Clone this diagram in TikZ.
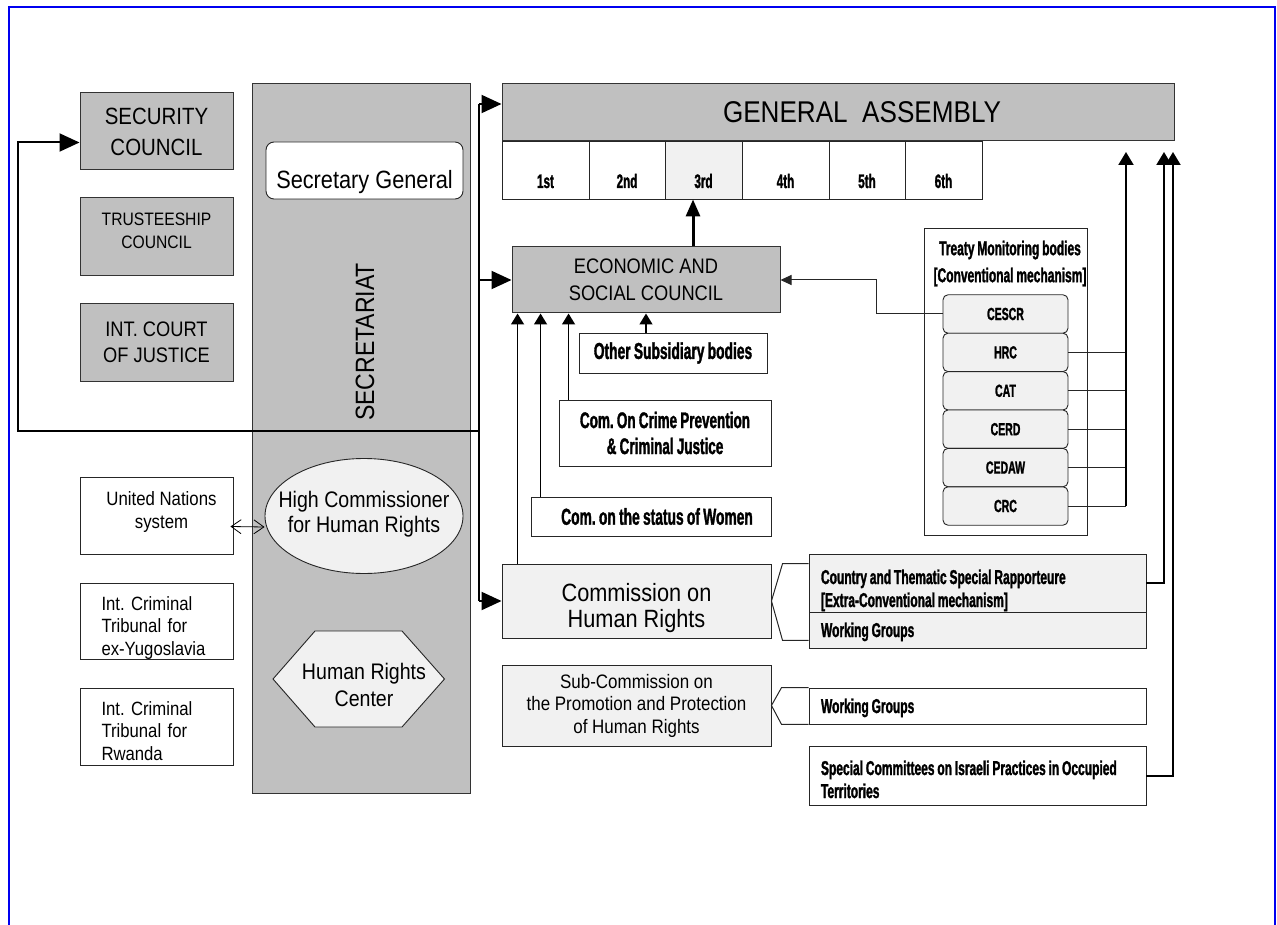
\documentclass[tikz,border=0pt]{standalone}
\usepackage{fontspec}
\setmainfont{Liberation Sans}[FakeStretch=0.87]
\newfontfamily\impactfont{Liberation Sans}[FakeStretch=0.6,FakeBold=1.4,WordSpace=0.85]
\usetikzlibrary{arrows.meta,shapes.geometric}
\frenchspacing

\definecolor{boxgray}{HTML}{C0C0C0}
\definecolor{lightfill}{HTML}{F1F1F1}
\definecolor{frameblue}{HTML}{0000F0}

% text block moved by #2, its last baseline on the node centre
\newcommand{\lowered}[3][c]{\raisebox{#2}[0pt][0pt]{\begin{tabular}[b]{@{}#1@{}}#3\end{tabular}}}
\newcommand{\leftblock}[2][-7pt]{\makebox[313pt][l]{\lowered[l]{#1}{#2}}}

\tikzset{
  organ/.style={draw=black!80, line width=1pt, fill=boxgray, inner sep=0pt, align=center},
  plainbox/.style={draw=black!85, line width=0.9pt, fill=white, inner sep=0pt, align=center},
  lightbox/.style={draw=black!85, line width=0.9pt, fill=lightfill, inner sep=0pt, align=center},
  impact/.style={font=\impactfont\bfseries\fontsize{#1}{#1}\selectfont},
  treatybox/.style={lightbox, rounded corners=5pt, minimum width=125pt, minimum height=38.4pt, impact=17.5},
  mechbox/.style={minimum width=337pt, font=\impactfont\bfseries\fontsize{20}{23}\selectfont},
  thinline/.style={draw=black!85, line width=1pt},
  thinarrow/.style={thinline, -{Triangle[length=11pt,width=10pt]}},
  trunk/.style={line width=2pt},
  bigarrow/.style={line width=2pt, -{Triangle[length=20pt,width=18pt]}},
  heavyarrow/.style={line width=3pt, -{Triangle[length=17pt,width=14pt]}},
  uparrow/.style={line width=2pt, -{Triangle[length=13pt,width=15pt]}},
  smallarrow/.style={line width=1.5pt, -{Triangle[length=11pt,width=13pt]}},
  dblarrow/.style={line width=0.8pt, {Straight Barb[length=10pt,width=14pt]}-{Straight Barb[length=10pt,width=14pt]}}
}

\begin{document}
\begin{tikzpicture}[x=1pt,y=-1pt]
\useasboundingbox (0,0) rectangle (1277,925);
\draw[line width=2pt, frameblue] (9,925) -- (9,7) -- (1275,7) -- (1275,925);

\node[organ, minimum width=153pt, minimum height=77pt, font=\fontsize{23.5}{31}\selectfont] (sc) at (156.5,131.5) {SECURITY\\COUNCIL};
\node[organ, minimum width=153pt, minimum height=78pt, font=\fontsize{18}{23}\selectfont] (tc) at (156.5,237) {\lowered{-11.5pt}{TRUSTEESHIP\\COUNCIL}};
\node[organ, minimum width=153pt, minimum height=77pt, font=\fontsize{21}{26}\selectfont] (icj) at (156.5,342.5) {INT. COURT\\OF JUSTICE};

\node[organ, minimum width=218pt, minimum height=709pt] (secr) at (361,438.5) {};
\node[rotate=90, font=\fontsize{26.5}{30}\selectfont] (secrlabel) at (365,342) {SECRETARIAT};
\node[plainbox, rounded corners=8pt, minimum width=197pt, minimum height=57pt, font=\fontsize{25}{28}\selectfont] (sg) at (364.5,170.5) {\raisebox{-18pt}[0pt][0pt]{Secretary General}};
\node[lightbox, ellipse, minimum width=198pt, minimum height=115pt] (hc) at (364,516) {};
\node[align=center, font=\fontsize{22.5}{25}\selectfont] (hctext) at (364,514.5) {High Commissioner\\for Human Rights};
\coordinate (hrcc) at (358.5,679);
\draw[draw=black!85, line width=0.9pt, fill=lightfill] (hrcc) ++(-85.5,0) -- ++(42,-48) -- ++(87,0) -- ++(42.5,48) -- ++(-42.5,48) -- ++(-87,0) -- cycle;
\node[align=center, font=\fontsize{22.5}{27}\selectfont] (hrc) at (364,685) {Human Rights\\Center};

\node[plainbox, minimum width=153pt, minimum height=77pt, font=\fontsize{19.3}{23}\selectfont] (un) at (156.5,515.5) {\lowered{-12.5pt}{\hspace*{10pt}United Nations\\\hspace*{10pt}system}};
\node[plainbox, minimum width=153pt, minimum height=76pt, text width=110pt, align=left, font=\fontsize{19.2}{22.5}\selectfont] (icty) at (156.5,621) {\lowered[l]{-34pt}{Int. Criminal\\Tribunal for\\ex-Yugoslavia}};
\node[plainbox, minimum width=153pt, minimum height=77pt, text width=110pt, align=left, font=\fontsize{19.2}{22.5}\selectfont] (ictr) at (156.5,726.5) {\lowered[l]{-33.5pt}{Int. Criminal\\Tribunal for\\Rwanda}};
\draw[dblarrow] ([xshift=-3pt,yshift=-11pt]un.east) -- ([yshift=-11pt]hc.west);

\node[organ, minimum width=672pt, minimum height=57pt, font=\fontsize{30}{30}\selectfont] (ga) at (838,112.5) {\hspace*{48pt}GENERAL\ \ ASSEMBLY};
\foreach \nm/\lab/\xl/\xr/\col in {c1/1st/502/589/white, c2/2nd/589/665/white, c3/3rd/665/742/lightfill, c4/4th/742/829/white, c5/5th/829/905/white, c6/6th/905/982/white}
  \node[plainbox, fill=\col, minimum width={(\xr-\xl)*1pt}, minimum height=58pt, impact=19.5] (\nm) at ({(\xl+\xr)/2},170) {\raisebox{-18pt}[0pt][0pt]{\lab}};

\node[organ, minimum width=268pt, minimum height=66pt, font=\fontsize{21}{27}\selectfont] (ecosoc) at (646,280) {ECONOMIC AND\\SOCIAL COUNCIL};
\draw[heavyarrow] ([xshift=47pt]ecosoc.north) -- ([xshift=-10.5pt]c3.south);

\node[lightbox, minimum width=269pt, minimum height=74pt, font=\fontsize{25}{24}\selectfont] (chr) at (636.5,601) {\lowered{-26pt}{Commission on\\Human Rights}};
\node[lightbox, minimum width=269pt, minimum height=81pt, font=\fontsize{19.5}{22.5}\selectfont] (subc) at (636.5,705.5) {Sub-Commission on\\the Promotion and Protection\\of Human Rights};

\coordinate (jtop) at (479,104);
\coordinate (loop) at (18,431);
\draw[trunk] (jtop) -- (jtop |- chr.west);
\draw[bigarrow] (jtop) -- (jtop -| ga.west);
\draw[bigarrow] (jtop |- ecosoc.west) -- (ecosoc.west);
\draw[bigarrow] (jtop |- chr.west) -- (chr.west);
\draw[bigarrow] (jtop |- loop) -- (loop) |- ([yshift=-11pt]sc.west);

\node[plainbox, minimum width=188pt, minimum height=40pt, impact=23] (osb) at (673,353) {Other Subsidiary bodies};
\node[plainbox, minimum width=212pt, minimum height=66pt, font=\impactfont\bfseries\fontsize{22.5}{26}\selectfont] (crime) at (665,433) {Com. On Crime Prevention\\\& Criminal Justice};
\node[plainbox, minimum width=240pt, minimum height=39pt, impact=23] (women) at (651,516.5) {\hspace*{12pt}Com. on the status of Women};
\draw[smallarrow] ([xshift=-27pt]osb.north) -- (ecosoc.south);
\coordinate (crimeup) at ([xshift=10pt]crime.north west);
\coordinate (womenup) at ([xshift=10pt]women.north west);
\coordinate (chrup) at ([xshift=16pt]chr.north west);
\draw[smallarrow] (crimeup) -- (crimeup |- ecosoc.south);
\draw[smallarrow] (womenup) -- (womenup |- ecosoc.south);
\draw[smallarrow] (chrup) -- (chrup |- ecosoc.south);

\node[plainbox, minimum width=163pt, minimum height=307pt] (tmb) at (1005.5,381.5) {};
\node[align=center, font=\impactfont\bfseries\fontsize{20}{27}\selectfont] (tmbtitle) at (1010,263.5) {Treaty Monitoring bodies\\{[}Conventional mechanism{]}};
\foreach \nm/\lab [count=\i from 0] in {cescr/CESCR, hrc/HRC, cat/CAT, cerd/CERD, cedaw/CEDAW, crc/CRC}
  \node[treatybox] (\nm) at (1005.5,{314+38.4*\i}) {\lab};
\draw[thinarrow] (cescr.west) -- ++(-66,0) |- (ecosoc.east);
\coordinate (tcol) at (1126,152);
\foreach \nm in {hrc,cat,cerd,cedaw,crc}
  \draw[thinline] (\nm.east) -- (\nm.east -| tcol);
\draw[uparrow] (crc.east -| tcol) -- (tcol);

\node[lightbox, mechbox, minimum height=58pt] (cnty) at (977.5,583) {\leftblock[-24pt]{Country and Thematic Special Rapporteure\\{[}Extra-Conventional mechanism{]}}};
\node[lightbox, mechbox, minimum height=36pt] (wgchr) at (977.5,630) {\leftblock{Working Groups}};
\node[plainbox, mechbox, minimum height=36pt] (wgsub) at (977.5,706) {\leftblock{Working Groups}};
\node[plainbox, mechbox, minimum height=59pt] (spc) at (977.5,775.5) {\leftblock[-22.5pt]{Special Committees on Israeli Practices in Occupied\\Territories}};
\draw[thinline] ([yshift=-10pt]cnty.north west) -- ++(-26,0) -- (chr.east) -- ([xshift=-26pt,yshift=8pt]wgchr.south west) -- ([yshift=8pt]wgchr.south west);
\draw[thinline] (wgsub.north west) -- ++(-27,0) -- (subc.east) -- ([xshift=-27pt]wgsub.south west) -- (wgsub.south west);

\coordinate (ccol) at (1164,152);
\coordinate (scol) at (1173,152);
\draw[uparrow] (cnty.east) -| (ccol);
\draw[uparrow] (spc.east) -| (scol);
\end{tikzpicture}
\end{document}
